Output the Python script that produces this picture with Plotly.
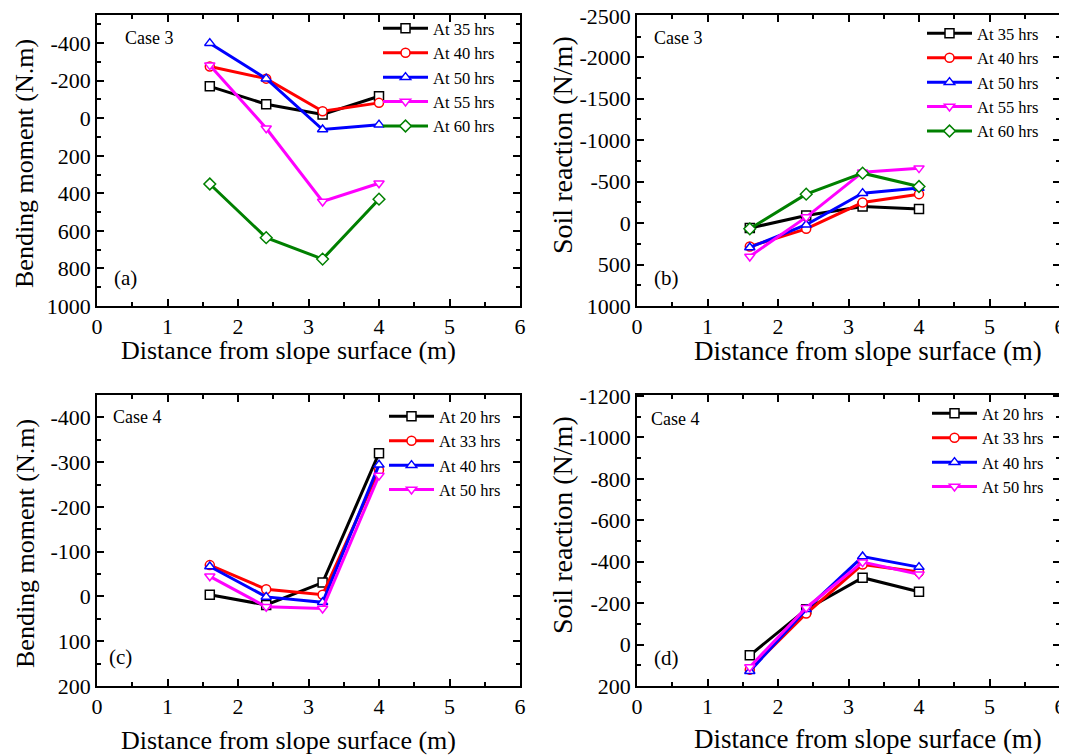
import plotly.graph_objects as go

OFF = 8                  # default page body margin in the browser
W, H = 1067 - OFF, 755 - OFF
FONT = "Liberation Serif"

x_pos = [1.6, 2.4, 3.2, 4.0]
x_ticks = [0, 1, 2, 3, 4, 5, 6]

# Panel (a): Case 3 bending moment (N.m)
a_labels = ["At 35 hrs", "At 40 hrs", "At 50 hrs", "At 55 hrs", "At 60 hrs"]
a_35 = [-170, -75, -20, -117]
a_40 = [-276, -211, -37, -82]
a_50 = [-400, -211, 60, 34]
a_55 = [-283, 53, 443, 346]
a_60 = [350, 636, 750, 431]
a_ticks = [-400, -200, 0, 200, 400, 600, 800, 1000]

# Panel (b): Case 3 soil reaction (N/m)
b_35 = [60, -92, -200, -169]
b_40 = [282, 69, -248, -349]
b_50 = [294, 20, -361, -422]
b_55 = [402, -72, -614, -663]
b_60 = [69, -349, -602, -441]
b_ticks = [-2500, -2000, -1500, -1000, -500, 0, 500, 1000]

# Panel (c): Case 4 bending moment (N.m)
c_labels = ["At 20 hrs", "At 33 hrs", "At 40 hrs", "At 50 hrs"]
c_20 = [-4, 19, -31, -320]
c_33 = [-70, -16, -4, -282]
c_40 = [-67, 1, 13, -294]
c_50 = [-45, 23, 27, -270]
c_ticks = [-400, -300, -200, -100, 0, 100, 200]

# Panel (d): Case 4 soil reaction (N/m)
d_20 = [52, -170, -323, -255]
d_33 = [121, -150, -387, -350]
d_40 = [129, -170, -425, -374]
d_50 = [108, -178, -398, -339]
d_ticks = [-1200, -1000, -800, -600, -400, -200, 0, 200]

colors5 = ["#000000", "#FF0000", "#0000FF", "#FF00FF", "#008000"]
symbols5 = ["square", "circle", "triangle-up", "triangle-down", "diamond"]


def px(x):
    return (x - OFF) / W


def py(y):
    return 1 - (y - OFF) / H


def txt(v):
    return [str(t) for t in v]  # plain hyphen minus


fig = go.Figure()

panels = [
    ("x", "y", "legend", a_labels, [a_35, a_40, a_50, a_55, a_60]),
    ("x2", "y2", "legend2", a_labels, [b_35, b_40, b_50, b_55, b_60]),
    ("x3", "y3", "legend3", c_labels, [c_20, c_33, c_40, c_50]),
    ("x4", "y4", "legend4", c_labels, [d_20, d_33, d_40, d_50]),
]

for xa, ya, lg, labels, series in panels:
    for i, (lab, vals) in enumerate(zip(labels, series)):
        fig.add_trace(go.Scatter(
            x=x_pos, y=vals, name=lab, mode="lines+markers",
            xaxis=xa, yaxis=ya, legend=lg,
            line=dict(color=colors5[i], width=3),
            marker=dict(symbol=symbols5[i], size=9, color="white",
                        line=dict(color=colors5[i], width=1.5)),
        ))

L, R = px(97), px(520)
L2, R2 = px(637), px(1060)
T1, B1 = py(15), py(306)
T2, B2 = py(395), py(686)

TICKF = dict(family=FONT, size=22, color="black")


def common():
    return dict(
        automargin=False, showgrid=False, zeroline=False, showline=True,
        linecolor="black", linewidth=1.5, mirror="allticks", ticks="inside",
        ticklen=7, tickwidth=1.5, tickcolor="black", tickfont=TICKF,
        ticklabeloverflow="allow",
    )


def xaxis_cfg(domain, anchor):
    d = common()
    d.update(domain=domain, anchor=anchor, range=[0, 6],
             tickmode="array", tickvals=x_ticks, ticktext=txt(x_ticks),
             minor=dict(dtick=0.5, ticks="inside", ticklen=4, tickwidth=1.5,
                        tickcolor="black", showgrid=False))
    return d


def yaxis_cfg(domain, anchor, rng, ticks, mdtick):
    d = common()
    d.update(domain=domain, anchor=anchor, range=rng,
             tickmode="array", tickvals=ticks, ticktext=txt(ticks),
             minor=dict(dtick=mdtick, ticks="inside", ticklen=4, tickwidth=1.5,
                        tickcolor="black", showgrid=False))
    return d


leg_font = dict(family=FONT, size=16.5, color="black")


def legend_cfg(xl, yt):
    return dict(x=px(xl), y=py(yt), xanchor="left", yanchor="top",
                xref="paper", yref="paper", font=leg_font,
                bgcolor="rgba(0,0,0,0)", borderwidth=0, tracegroupgap=0,
                itemwidth=45)


fig.update_layout(
    width=W, height=H,
    margin=dict(l=0, r=0, t=0, b=0, autoexpand=False),
    paper_bgcolor="white", plot_bgcolor="white",
    font=dict(family=FONT, color="black"),
    xaxis=xaxis_cfg([L, R], "y"),
    yaxis=yaxis_cfg([B1, T1], "x", [1000, -550], a_ticks, 100),
    xaxis2=xaxis_cfg([L2, R2], "y2"),
    yaxis2=yaxis_cfg([B1, T1], "x2", [1000, -2510], b_ticks, 250),
    xaxis3=xaxis_cfg([L, R], "y3"),
    yaxis3=yaxis_cfg([B2, T2], "x3", [200, -450], c_ticks, 50),
    xaxis4=xaxis_cfg([L2, R2], "y4"),
    yaxis4=yaxis_cfg([B2, T2], "x4", [200, -1205], d_ticks, 100),
    legend=legend_cfg(378, 11),
    legend2=legend_cfg(922, 16),
    legend3=legend_cfg(384, 399),
    legend4=legend_cfg(927, 396),
)

xtitle = "Distance from slope surface (m)"
titles = [
    (xtitle, 288, 351, 26, 0), (xtitle, 868, 351, 27, 0),
    (xtitle, 288, 740, 26, 0), (xtitle, 868, 739, 27, 0),
    ("Bending moment (N.m)", 25, 164, 26, -90),
    ("Soil reaction (N/m)", 562, 145, 28, -90),
    ("Bending moment (N.m)", 25, 544, 26, -90),
    ("Soil reaction (N/m)", 562, 525, 28, -90),
]
for text, xc, yc, fs, ang in titles:
    fig.add_annotation(text=text, x=px(xc), y=py(yc), xref="paper", yref="paper",
                       xanchor="center", yanchor="middle", showarrow=False,
                       textangle=ang,
                       font=dict(family=FONT, size=fs, color="black"))

ann = [
    ("Case 3", 123, 38, 18), ("(a)", 112, 278, 21),
    ("Case 3", 652, 38, 18), ("(b)", 652, 278, 21),
    ("Case 4", 111, 417, 18), ("(c)", 107, 657, 21),
    ("Case 4", 649, 419, 18), ("(d)", 652, 658, 21),
]
for text, xl, yc, fs in ann:
    fig.add_annotation(text=text, x=px(xl), y=py(yc), xref="paper", yref="paper",
                       xanchor="left", yanchor="middle", showarrow=False,
                       font=dict(family=FONT, size=fs, color="black"))

fig.write_html("out.html")
